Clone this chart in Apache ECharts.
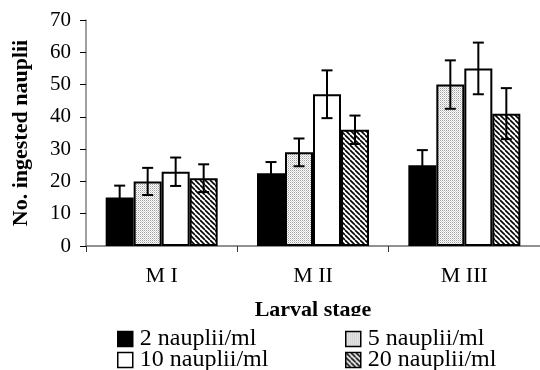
<!DOCTYPE html>
<html>
<head>
<meta charset="utf-8">
<script src="https://cdn.jsdelivr.net/npm/echarts@6/dist/echarts.min.js"></script>
<style>
  html, body { margin: 0; padding: 0; background: #fff; }
  #chart { width: 540px; height: 370px; }
</style>
</head>
<body>
<div id="chart"></div>
<script>
// data
const stages = ['M I', 'M II', 'M III'];
const seriesNames = ['2 nauplii/ml', '5 nauplii/ml', '10 nauplii/ml', '20 nauplii/ml'];
const mean2 = [15, 22.5, 25];
const mean5 = [20, 29, 50];
const mean10 = [23, 47, 55];
const mean20 = [21, 36, 41];
const err2 = [3.7, 3.5, 4.7];
const err5 = [4.2, 4.3, 7.5];
const err10 = [4.4, 7.4, 8.0];
const err20 = [4.3, 4.4, 7.9];

const means = [mean2, mean5, mean10, mean20];
const errs = [err2, err5, err10, err20];

const FONT = "'Liberation Serif', 'Times New Roman', serif";
const CAT_GAP = 0.26;

// fill patterns
function dotPattern() {
  const c = document.createElement('canvas');
  c.width = 2; c.height = 2;
  const ctx = c.getContext('2d');
  ctx.fillStyle = '#fff';
  ctx.fillRect(0, 0, 2, 2);
  ctx.fillStyle = '#a0a0a0';
  ctx.fillRect(0, 0, 1, 1);
  ctx.fillStyle = '#d0d0d0';
  ctx.fillRect(1, 1, 1, 1);
  return c;
}
function hatchPattern() {
  const s = 5;
  const c = document.createElement('canvas');
  c.width = s; c.height = s;
  const ctx = c.getContext('2d');
  ctx.fillStyle = '#fff';
  ctx.fillRect(0, 0, s, s);
  ctx.strokeStyle = '#000';
  ctx.lineWidth = 1.6;
  [-s, 0, s].forEach(function (k) {
    ctx.beginPath();
    ctx.moveTo(k, 0);
    ctx.lineTo(k + s, s);
    ctx.stroke();
  });
  return c;
}

const fills = [
  '#000',
  { image: dotPattern(), repeat: 'repeat' },
  '#fff',
  { image: hatchPattern(), repeat: 'repeat' }
];

let chart = echarts.init(document.getElementById('chart'));

let barSeries = seriesNames.map(function (name, i) {
  return {
    name: name,
    type: 'bar',
    data: means[i],
    barGap: '0%',
    barCategoryGap: (CAT_GAP * 100) + '%',
    itemStyle: { color: fills[i], borderColor: '#000', borderWidth: 2 },
    emphasis: { disabled: true },
    z: 2
  };
});

let errSeries = seriesNames.map(function (name, i) {
  return {
    type: 'custom',
    name: 'err' + i,
    z: 5,
    silent: true,
    data: means[i].map(function (m, j) { return [j, m - errs[i][j], m + errs[i][j]]; }),
    renderItem: function (params, api) {
      const cat = api.value(0);
      const catW = api.size([1, 0])[0];
      const groupW = catW * (1 - CAT_GAP);
      const barW = groupW / 4;
      const lo = api.coord([cat, api.value(1)]);
      const hi = api.coord([cat, api.value(2)]);
      const x = lo[0] - groupW / 2 + (i + 0.5) * barW;
      const cap = 5.5;
      const st = { stroke: '#000', lineWidth: 2 };
      return {
        type: 'group',
        children: [
          { type: 'line', shape: { x1: x, y1: lo[1], x2: x, y2: hi[1] }, style: st },
          { type: 'line', shape: { x1: x - cap, y1: hi[1], x2: x + cap, y2: hi[1] }, style: st },
          { type: 'line', shape: { x1: x - cap, y1: lo[1], x2: x + cap, y2: lo[1] }, style: st }
        ]
      };
    },
    encode: { x: 0, y: [1, 2] }
  };
});

// one legend per entry so the 2x2 block can be placed freely
const legendPos = [[117, 327], [345, 327], [117, 348], [345, 348]];
let legends = seriesNames.map(function (name, i) {
  return {
    data: [name],
    left: legendPos[i][0],
    top: legendPos[i][1],
    padding: 0,
    itemWidth: 15,
    itemHeight: 15,
    selectedMode: false,
    icon: 'rect',
    itemStyle: { borderColor: '#000', borderWidth: 1.5 },
    textStyle: { fontFamily: FONT, fontSize: 24, color: '#000', lineHeight: 20, padding: [0, 0, 0, 2] }
  };
});

chart.setOption({
  animation: false,
  backgroundColor: '#fff',
  textStyle: { fontFamily: FONT },
  grid: { left: 86, top: 20, width: 459, bottom: 124 },
  legend: legends,
  graphic: [{
    type: 'rect',
    z: 10,
    shape: { x: 0, y: 316, width: 540, height: 11 },
    style: { fill: '#fff' }
  }],
  xAxis: {
    type: 'category',
    data: stages,
    name: 'Larval stage',
    nameLocation: 'middle',
    nameGap: 53,
    nameTextStyle: { fontFamily: FONT, fontSize: 22, fontWeight: 'bold', color: '#000' },
    axisLine: { lineStyle: { color: '#6e6e6e', width: 1.5 } },
    axisTick: { show: true, length: 6, lineStyle: { color: '#333' } },
    axisLabel: { fontFamily: FONT, fontSize: 22, color: '#000', margin: 19 }
  },
  yAxis: {
    type: 'value',
    min: 0,
    max: 70,
    interval: 10,
    name: 'No. ingested nauplii',
    nameLocation: 'middle',
    nameGap: 54,
    nameTextStyle: { fontFamily: FONT, fontSize: 22, fontWeight: 'bold', color: '#000' },
    axisLine: { show: true, lineStyle: { color: '#808080', width: 1.5 } },
    axisTick: { show: true, length: 6, lineStyle: { color: '#000' } },
    axisLabel: { fontFamily: FONT, fontSize: 21, color: '#000', margin: 15 },
    splitLine: { show: false }
  },
  series: barSeries.concat(errSeries)
});

window.addEventListener('resize', () => {
  chart.resize()
});
</script>
</body>
</html>
